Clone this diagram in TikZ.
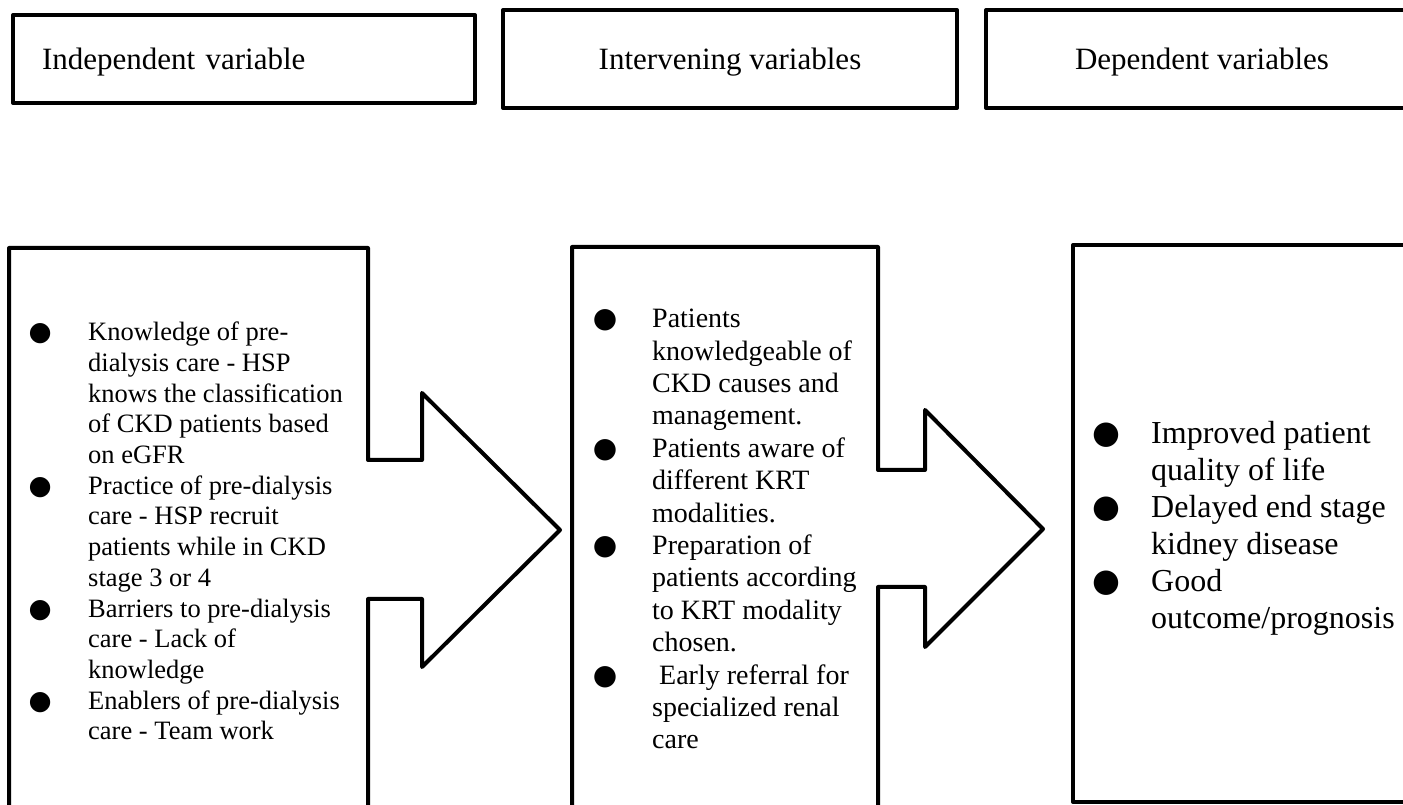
\documentclass[tikz,border=0pt]{standalone}
\usepackage{fontspec}
\setmainfont{Liberation Serif}
\newfontfamily\dotfont{DejaVu Sans}
\usetikzlibrary{positioning, calc}

\newlength{\bgap}
\setlength{\bgap}{47pt}
\newcommand{\itm}{\strut\makebox[\bgap][l]{\makebox[0pt]{\dotfont\char"25CF}}}
\newcommand{\cnt}{\strut\makebox[\bgap][l]{}}

\begin{document}
\begin{tikzpicture}[
  x=1pt, y=1pt,
  line/.style={draw, line width=4pt, line join=round},
  headbox/.style={rectangle, draw, line width=4pt, line join=round,
              font=\fontsize{31}{36}\selectfont, text height=22pt, text depth=0pt,
              minimum height=98pt, inner sep=0pt},
  itemtext/.style={anchor=north west, inner sep=0pt, align=left}
]
\path[use as bounding box, clip] (0,0) rectangle (1403,805);

% =======================================================
%                     HEADINGS
% =======================================================
\node[headbox, minimum width=462pt, minimum height=88pt, text width=404pt, align=left]
  (indephead) at (244,746) {Independent variable};
\node[headbox, minimum width=454pt] (intervhead) at (730,746) {Intervening variables};
\node[headbox, minimum width=432pt] (dephead) at (1202,746) {Dependent variables};

% =======================================================
%                     PANELS
% =======================================================
% independent panel, arrow into intervening panel
\coordinate (tipone) at (560,275);
\draw[line] (9,-10) |- (368,557) -- (368,345) -| (422,412) -- (tipone)
  -- (422,138) |- (368,206) -- (368,-10);

% intervening panel, arrow into dependent panel
\coordinate (tiptwo) at (1043,276);
\draw[line] (572,-10) |- (878,558) -- (878,335) -| (925,395) -- (tiptwo)
  -- (925,158) |- (878,218) -- (878,-10);

% dependent panel
\draw[line] (1418,560) -| (1073,3) -- (1418,3);

% =======================================================
%                     LISTS
% =======================================================
\node[itemtext, font=\fontsize{26.5}{30.7}\selectfont\setlength{\bgap}{48pt}]
  (indeplist) at (40,485.9) {%
  \itm Knowledge of pre-\\
  \cnt dialysis care - HSP\\
  \cnt knows the classification\\
  \cnt of CKD patients based\\
  \cnt on eGFR\\
  \itm Practice of pre-dialysis\\
  \cnt care - HSP recruit\\
  \cnt patients while in CKD\\
  \cnt stage 3 or 4\\
  \itm Barriers to pre-dialysis\\
  \cnt care - Lack of\\
  \cnt knowledge\\
  \itm Enablers of pre-dialysis\\
  \cnt care - Team work};

\node[itemtext, font=\fontsize{28}{32.4}\selectfont\setlength{\bgap}{47pt}]
  (intervlist) at (605,500.1) {%
  \itm Patients\\
  \cnt knowledgeable of\\
  \cnt CKD causes and\\
  \cnt management.\\
  \itm Patients aware of\\
  \cnt different KRT\\
  \cnt modalities.\\
  \itm Preparation of\\
  \cnt patients according\\
  \cnt to KRT modality\\
  \cnt chosen.\\
  \itm\ Early referral for\\
  \cnt specialized renal\\
  \cnt care};

\node[itemtext, font=\fontsize{32}{37}\selectfont\setlength{\bgap}{45pt}]
  (deplist) at (1106,387.9) {%
  \itm Improved patient\\
  \cnt quality of life\\
  \itm Delayed end stage\\
  \cnt kidney disease\\
  \itm Good\\
  \cnt outcome/prognosis};

\end{tikzpicture}
\end{document}
